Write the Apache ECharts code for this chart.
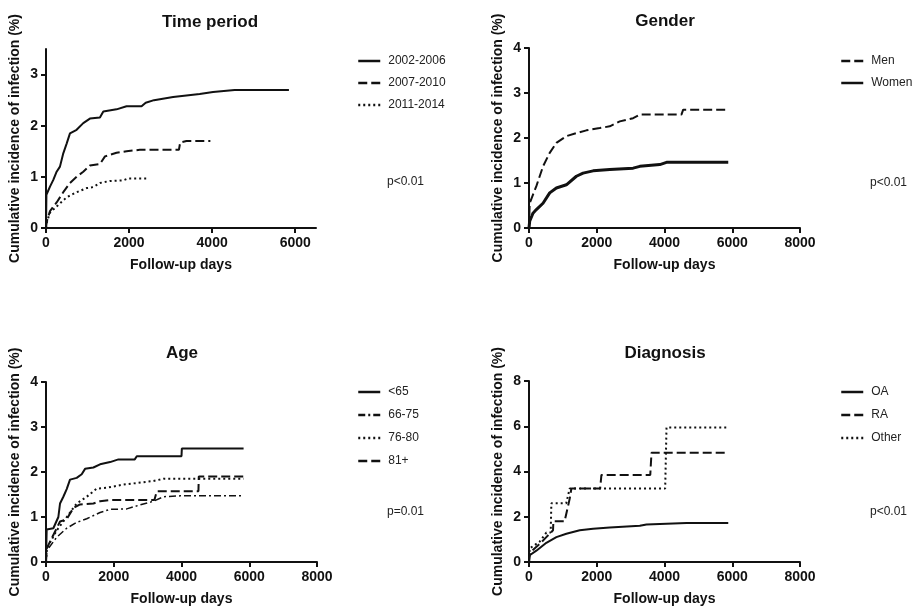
<!DOCTYPE html>
<html>
<head>
<meta charset="utf-8">
<script src="https://cdn.jsdelivr.net/npm/echarts@6/dist/echarts.min.js"></script>
<style>
  html, body { margin: 0; padding: 0; background: #fff; }
  #chart { width: 922px; height: 607px; }
</style>
</head>
<body>
<div id="chart"></div>
<script>
// follow-up days / cumulative incidence (%)
// a repeated day means a vertical step at that day

// Time period
const tpDays0206 = [0, 10, 96, 176, 256, 336, 416, 497, 577, 737, 897, 1057, 1298, 1380, 1698, 1939, 2300, 2400, 2600, 3060, 3700, 4021, 4542, 5848]
const tpPct0206 = [0, 0.65, 0.81, 0.94, 1.1, 1.2, 1.46, 1.65, 1.85, 1.92, 2.05, 2.14, 2.16, 2.28, 2.32, 2.38, 2.38, 2.45, 2.5, 2.56, 2.62, 2.66, 2.7, 2.7]
const tpDays0710 = [0, 16, 96, 256, 416, 577, 737, 897, 1057, 1298, 1420, 1698, 1939, 2259, 3200, 3230, 3380, 3957]
const tpPct0710 = [0, 0.12, 0.33, 0.5, 0.7, 0.88, 1.0, 1.1, 1.22, 1.25, 1.4, 1.47, 1.5, 1.53, 1.53, 1.67, 1.7, 1.7]
const tpDays1114 = [0, 16, 96, 256, 497, 737, 977, 1138, 1298, 1538, 1858, 1979, 2459]
const tpPct1114 = [0, 0.1, 0.3, 0.42, 0.6, 0.7, 0.78, 0.8, 0.88, 0.92, 0.93, 0.97, 0.97]

// Gender
const gDaysMen = [0, 20, 217, 414, 611, 808, 1103, 1399, 1695, 2089, 2384, 2680, 3074, 3271, 4500, 4552, 5882]
const gPctMen = [0, 0.55, 0.93, 1.37, 1.67, 1.89, 2.04, 2.11, 2.17, 2.22, 2.26, 2.37, 2.44, 2.52, 2.52, 2.63, 2.63]
const gDaysWomen = [0, 20, 118, 217, 414, 611, 808, 1103, 1399, 1596, 1892, 2384, 3074, 3271, 3862, 4059, 5882]
const gPctWomen = [0, 0.15, 0.33, 0.41, 0.55, 0.78, 0.89, 0.96, 1.15, 1.22, 1.27, 1.3, 1.33, 1.37, 1.41, 1.46, 1.46]

// Age
const aDays65 = [0, 20, 217, 365, 414, 512, 611, 709, 906, 1054, 1153, 1399, 1596, 1892, 2138, 2620, 2680, 4000, 4010, 5833]
const aPct65 = [0, 0.72, 0.75, 1.0, 1.3, 1.45, 1.62, 1.83, 1.87, 1.95, 2.07, 2.1, 2.17, 2.22, 2.28, 2.28, 2.35, 2.35, 2.52, 2.52]
const aDays6675 = [0, 20, 315, 611, 906, 1202, 1596, 1892, 2384, 2778, 3172, 3468, 3961, 5833]
const aPct6675 = [0, 0.25, 0.55, 0.75, 0.88, 0.96, 1.1, 1.17, 1.18, 1.27, 1.35, 1.45, 1.47, 1.47]
const aDays7680 = [0, 20, 315, 611, 906, 1202, 1498, 1793, 2286, 3172, 3468, 5833]
const aPct7680 = [0, 0.3, 0.7, 1.0, 1.3, 1.45, 1.63, 1.65, 1.72, 1.8, 1.85, 1.85]
const aDays81 = [0, 20, 217, 414, 611, 808, 1005, 1399, 1596, 1892, 3200, 3271, 4500, 4510, 5833]
const aPct81 = [0, 0.3, 0.6, 0.9, 0.95, 1.2, 1.28, 1.3, 1.35, 1.38, 1.38, 1.57, 1.57, 1.9, 1.9]

// Diagnosis
const dDaysOA = [0, 20, 217, 512, 808, 1103, 1498, 1892, 2384, 3271, 3468, 4650, 5882]
const dPctOA = [0, 0.3, 0.5, 0.85, 1.1, 1.25, 1.4, 1.47, 1.52, 1.6, 1.66, 1.72, 1.72]
const dDaysRA = [0, 20, 315, 512, 709, 720, 1050, 1202, 1251, 2100, 2138, 3580, 3616, 5882]
const dPctRA = [0, 0.4, 0.8, 1.1, 1.4, 1.8, 1.8, 2.8, 3.25, 3.25, 3.85, 3.85, 4.83, 4.83]
const dDaysOther = [0, 20, 315, 512, 640, 660, 1100, 1202, 4020, 4059, 5882]
const dPctOther = [0, 0.6, 0.9, 1.3, 1.3, 2.6, 2.6, 3.25, 3.25, 5.95, 5.95]

const panelTitles = ['Time period', 'Gender', 'Age', 'Diagnosis']
const pValues = ['p<0.01', 'p<0.01', 'p=0.01', 'p<0.01']
const yName = 'Cumulative incidence of infection (%)'
const xName = 'Follow-up days'

const ink = '#111'
const font = '"Liberation Sans", Arial, sans-serif'

const zip = (xs, ys) => xs.map((x, i) => [x, ys[i]])

// panel boxes
const grids = [
  { left: 46, top: 49, width: 270, height: 179 },
  { left: 529, top: 48, width: 271, height: 180 },
  { left: 46, top: 382, width: 271, height: 180 },
  { left: 529, top: 381, width: 271, height: 181 }
]
const xMax = [6500, 8000, 8000, 8000]
const yMax = [3.5, 4, 4, 8]
const yStep = [1, 1, 1, 2]

const dashes = {
  solid: 'solid',
  dashed: [9, 4],
  dotted: [2, 3],
  dashdot: [7, 3, 2, 3]
}

function kmLine (name, idx, days, pct, dash, width) {
  return {
    name: name,
    type: 'line',
    xAxisIndex: idx,
    yAxisIndex: idx,
    symbol: 'none',
    showSymbol: false,
    lineStyle: { color: ink, width: width || 2, type: dash },
    itemStyle: { color: ink },
    data: zip(days, pct),
    silent: true,
    animation: false
  }
}

const series = [
  kmLine('2002-2006', 0, tpDays0206, tpPct0206, dashes.solid),
  kmLine('2007-2010', 0, tpDays0710, tpPct0710, dashes.dashed),
  kmLine('2011-2014', 0, tpDays1114, tpPct1114, dashes.dotted),
  kmLine('Men', 1, gDaysMen, gPctMen, dashes.dashed),
  kmLine('Women', 1, gDaysWomen, gPctWomen, dashes.solid, 3),
  kmLine('<65', 2, aDays65, aPct65, dashes.solid),
  kmLine('66-75', 2, aDays6675, aPct6675, dashes.dashdot, 1.5),
  kmLine('76-80', 2, aDays7680, aPct7680, dashes.dotted),
  kmLine('81+', 2, aDays81, aPct81, dashes.dashed),
  kmLine('OA', 3, dDaysOA, dPctOA, dashes.solid),
  kmLine('RA', 3, dDaysRA, dPctRA, dashes.dashed),
  kmLine('Other', 3, dDaysOther, dPctOther, dashes.dotted)
]

const axisLine = { show: true, onZero: false, lineStyle: { color: ink, width: 2 } }
const axisTick = { show: true, length: 5, lineStyle: { color: ink, width: 2 } }
const tickLabel = { color: ink, fontSize: 14, fontWeight: 'bold', fontFamily: font, formatter: v => String(v) }
const nameStyle = { color: ink, fontSize: 14, fontWeight: 'bold', fontFamily: font }

const xAxis = grids.map((g, i) => ({
  type: 'value',
  gridIndex: i,
  min: 0,
  max: xMax[i],
  interval: 2000,
  name: xName,
  nameLocation: 'middle',
  nameGap: 30,
  nameTextStyle: nameStyle,
  axisLine: axisLine,
  axisTick: axisTick,
  axisLabel: Object.assign({ margin: 8, showMaxLabel: i > 0 }, tickLabel),
  splitLine: { show: false }
}))

const yAxis = grids.map((g, i) => ({
  type: 'value',
  gridIndex: i,
  min: 0,
  max: yMax[i],
  interval: yStep[i],
  name: yName,
  nameLocation: 'middle',
  nameRotate: 90,
  nameGap: 24,
  nameTextStyle: nameStyle,
  axisLine: axisLine,
  axisTick: axisTick,
  axisLabel: Object.assign({ margin: 8, showMaxLabel: i > 0 }, tickLabel),
  splitLine: { show: false }
}))

const legendPos = [
  { left: 357, top: 55, gap: 10 },
  { left: 840, top: 55, gap: 10 },
  { left: 357, top: 386, gap: 11 },
  { left: 840, top: 386, gap: 11 }
]
const legendNames = [
  ['2002-2006', '2007-2010', '2011-2014'],
  ['Men', 'Women'],
  ['<65', '66-75', '76-80', '81+'],
  ['OA', 'RA', 'Other']
]
const legend = legendPos.map((p, i) => ({
  data: legendNames[i],
  orient: 'vertical',
  left: p.left,
  top: p.top,
  itemWidth: 22,
  itemHeight: 14,
  itemGap: p.gap,
  padding: 0,
  selectedMode: false,
  itemStyle: { opacity: 0, color: 'transparent', borderWidth: 0 },
  lineStyle: { width: 2.5 },
  textStyle: { color: '#222', fontSize: 12, fontFamily: font, padding: [0, 0, 0, 3] }
}))

const titlePos = [[210, 22], [665, 21], [182, 353], [665, 353]]
const pPos = [[387, 182], [870, 183], [387, 512], [870, 512]]

const graphic = []
titlePos.forEach((p, i) => {
  graphic.push({
    type: 'text',
    x: p[0],
    y: p[1],
    silent: true,
    style: {
      text: panelTitles[i],
      fill: ink,
      font: 'bold 17px ' + font,
      align: 'center',
      verticalAlign: 'middle',
      textAlign: 'center',
      textVerticalAlign: 'middle'
    }
  })
})
pPos.forEach((p, i) => {
  graphic.push({
    type: 'text',
    x: p[0],
    y: p[1],
    silent: true,
    style: {
      text: pValues[i],
      fill: '#222',
      font: '12px ' + font,
      align: 'left',
      verticalAlign: 'middle',
      textAlign: 'left',
      textVerticalAlign: 'middle'
    }
  })
})

const chart = echarts.init(document.getElementById('chart'), null, { renderer: 'canvas' })
chart.setOption({
  backgroundColor: '#fff',
  animation: false,
  grid: grids,
  xAxis: xAxis,
  yAxis: yAxis,
  legend: legend,
  graphic: graphic,
  series: series
})
</script>
</body>
</html>
